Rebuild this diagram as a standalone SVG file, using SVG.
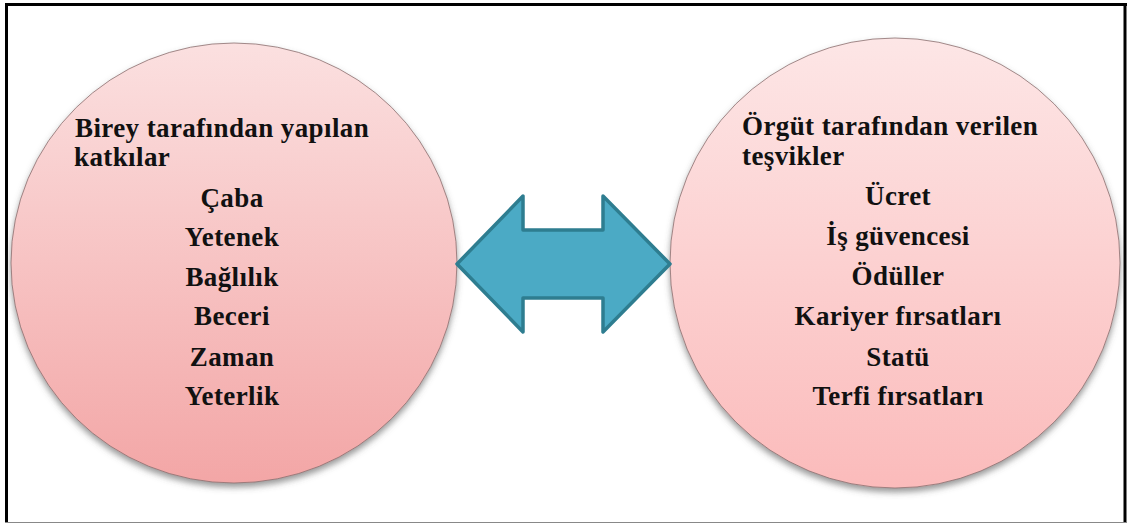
<svg xmlns="http://www.w3.org/2000/svg" width="1127" height="523" viewBox="0 0 1127 523">
<defs>
<linearGradient id="gL" x1="0" y1="0" x2="0" y2="1">
<stop offset="0" stop-color="#FBE0E0"/>
<stop offset="1" stop-color="#F3A6A6"/>
</linearGradient>
<linearGradient id="gR" x1="0" y1="0" x2="0" y2="1">
<stop offset="0" stop-color="#FDE6E6"/>
<stop offset="1" stop-color="#FBBBBB"/>
</linearGradient>
<filter id="sh" x="-10%" y="-10%" width="120%" height="125%">
<feDropShadow dx="0" dy="4" stdDeviation="3" flood-color="#555" flood-opacity="0.6"/>
</filter>
<style>
.t{font-weight:bold;font-size:27px;letter-spacing:0.4px;fill:#111}
.c{text-anchor:middle}
.circ{stroke:#8a7070;stroke-width:0.8;filter:url(#sh)}
</style>
</defs>
<rect x="0" y="0" width="1127" height="523" fill="#fff"/>
<g id="frame">
<line x1="6.5" y1="3" x2="6.5" y2="523" stroke="#000" stroke-width="3"/>
<line x1="5" y1="4.5" x2="1127" y2="4.5" stroke="#000" stroke-width="3"/>
<line x1="1125" y1="3" x2="1125" y2="523" stroke="#000" stroke-width="3"/>
<line x1="5" y1="522.5" x2="1127" y2="522.5" stroke="#888" stroke-width="1"/>
</g>
<g id="left-node" font-family="Liberation Serif, DejaVu Serif, serif">
<ellipse class="circ" cx="234" cy="263" rx="223" ry="220" fill="url(#gL)"/>
<text class="t" x="75" y="137">Birey tarafından yapılan</text>
<text class="t" x="74" y="166">katkılar</text>
<text class="t c" x="232" y="207">Çaba</text>
<text class="t c" x="232" y="246">Yetenek</text>
<text class="t c" x="232" y="286">Bağlılık</text>
<text class="t c" x="232" y="325">Beceri</text>
<text class="t c" x="232" y="366">Zaman</text>
<text class="t c" x="232" y="405">Yeterlik</text>
</g>
<g id="right-node" font-family="Liberation Serif, DejaVu Serif, serif">
<ellipse class="circ" cx="895" cy="263" rx="225" ry="225" fill="url(#gR)"/>
<text class="t" x="742" y="135">Örgüt tarafından verilen</text>
<text class="t" x="742" y="165">teşvikler</text>
<text class="t c" x="898" y="205">Ücret</text>
<text class="t c" x="898" y="245">İş güvencesi</text>
<text class="t c" x="898" y="285">Ödüller</text>
<text class="t c" x="898" y="325">Kariyer fırsatları</text>
<text class="t c" x="898" y="366">Statü</text>
<text class="t c" x="898" y="405">Terfi fırsatları</text>
</g>
<g id="connectors">
<polygon points="457,264 523,196 523,230 603,230 603,196 670,264 603,332 603,298 523,298 523,332" fill="#4BAAC5" stroke="#2E7D90" stroke-width="3.5" stroke-linejoin="round"/>
</g>
</svg>
